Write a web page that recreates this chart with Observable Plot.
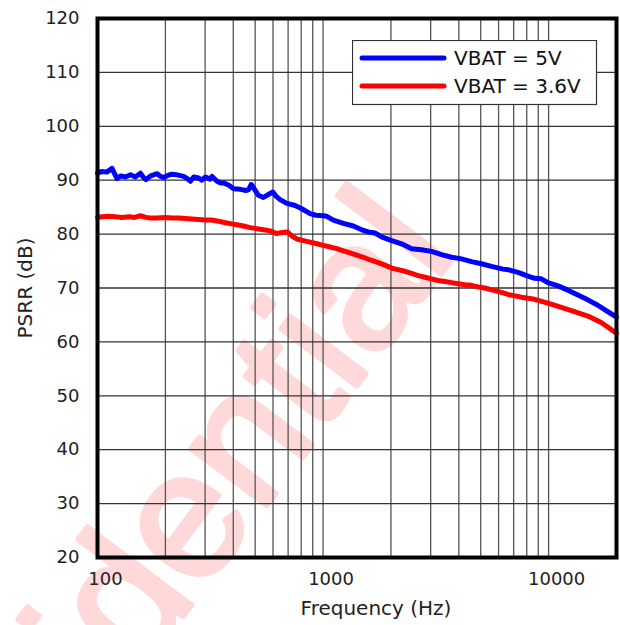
<!DOCTYPE html>
<html><head><meta charset="utf-8">
<script src="https://cdn.jsdelivr.net/npm/d3@7"></script>
<script src="https://cdn.jsdelivr.net/npm/@observablehq/plot@0.6"></script>
<style>
body{margin:0;background:#fff;}
#wrap{position:relative;width:620px;height:625px;overflow:hidden;}
#legend{position:absolute;left:352px;top:40px;}
</style></head><body><div id="wrap"></div>
<script>
const seriesNames = ["VBAT = 5V", "VBAT = 3.6V"];
const seriesColors = ["#0000ff", "#ff0000"];

const freq5 = [100,104,110,116,119,122,127,133,140,147,155,160,164,172,184,190,197,205,212,225,241,252,258,267,281,290,301,316,322,339,350,362,381,401,430,455,467,480,497,517,544,564,599,620,645,691,752,805,876,930,1000,1039,1111,1230,1362,1484,1587,1699,1818,2014,2230,2469,2734,3028,3353,3713,4111,4551,5038,5579,6279,6605,7313,8096,8672,9283,9929,10996,12173,13478,14925,16522,18295,20000];
const psrr5 = [91.3,91.6,91.5,92.2,91.2,90.3,90.8,90.6,91.0,90.6,91.3,90.5,90.1,90.8,91.2,90.7,90.5,90.9,91.1,91.0,90.7,90.2,89.8,90.6,90.4,90.0,90.6,90.2,90.7,89.8,89.5,89.5,89.1,88.4,88.3,88.1,88.2,89.2,88.3,87.2,86.8,87.2,87.8,87.0,86.4,85.7,85.3,84.7,83.8,83.5,83.4,83.3,82.6,82.0,81.5,80.8,80.4,80.2,79.5,78.8,78.2,77.3,77.1,76.8,76.2,75.7,75.4,74.9,74.5,74.0,73.5,73.4,72.9,72.2,71.8,71.7,71.0,70.4,69.6,68.7,67.8,66.8,65.6,64.6];

const freq36 = [100,105,112,120,128,138,146,155,164,172,183,200,215,229,245,262,280,300,320,344,368,394,420,444,475,509,545,583,620,660,695,730,765,820,876,940,1003,1075,1150,1230,1317,1410,1508,1620,1757,1890,2014,2150,2306,2470,2641,2830,3028,3230,3467,3710,3970,4250,4551,4870,5211,5660,6177,6605,7572,8672,9929,11380,13032,14925,17110,20000];
const psrr36 = [83.1,83.2,83.3,83.2,83.1,83.2,83.1,83.4,83.1,83.0,83.0,83.1,83.0,83.0,82.9,82.8,82.7,82.6,82.6,82.4,82.1,81.9,81.7,81.5,81.2,81.0,80.8,80.6,80.1,80.3,80.4,79.6,79.1,78.8,78.5,78.2,77.9,77.6,77.3,76.9,76.5,76.1,75.7,75.2,74.7,74.2,73.7,73.4,73.1,72.7,72.3,72.0,71.7,71.4,71.2,71.0,70.8,70.6,70.5,70.2,70.0,69.6,69.2,68.8,68.3,67.9,67.2,66.4,65.6,64.8,63.6,61.6];

const yTicks = [20,30,40,50,60,70,80,90,100,110,120];
const xTicks = [100,1000,10000];
const xGrid = [100,200,300,400,500,600,700,800,900,1000,2000,3000,4000,5000,6000,7000,8000,9000,10000,20000];
const xTitle = "Frequency (Hz)";
const yTitle = "PSRR (dB)";
const watermark = "Confidential";

const data = [
  ...freq5.map((f, i) => ({f, v: psrr5[i], s: seriesNames[0]})),
  ...freq36.map((f, i) => ({f, v: psrr36[i], s: seriesNames[1]}))
];

const FONT = "DejaVu Sans, sans-serif";
const plot = Plot.plot({
  width: 620, height: 625,
  marginLeft: 97, marginRight: 4, marginTop: 18, marginBottom: 68,
  x: {type: "log", domain: [100, 20000]},
  y: {domain: [20, 120]},
  color: {domain: seriesNames, range: seriesColors},
  style: {fontFamily: FONT, fontSize: "18px", color: "#222", background: "#fff", overflow: "hidden"},
  marks: [
    Plot.ruleX(xGrid, {stroke: "#555", strokeWidth: 1.3}),
    Plot.ruleY(yTicks, {stroke: "#333", strokeWidth: 1.3}),
    Plot.line(data, {x: "f", y: "v", z: "s", stroke: "s", strokeWidth: 5, strokeLinejoin: "round", strokeLinecap: "round"}),
    Plot.frame({stroke: "#000", strokeWidth: 4}),
    Plot.axisY(yTicks, {tickSize: 0, tickPadding: 18, label: null, fontSize: 18}),
    Plot.axisX(xTicks, {tickSize: 0, tickPadding: 15, label: null, dx: 8, fontSize: 18, tickFormat: d => String(d)}),
    Plot.text([xTitle], {text: d => d, frameAnchor: "bottom", textAnchor: "middle", lineAnchor: "middle", dy: 51, dx: 19, fontSize: 20}),
    Plot.text([yTitle], {text: d => d, frameAnchor: "left", textAnchor: "middle", lineAnchor: "middle", rotate: -90, dx: -72, fontSize: 20})
  ]
});

const NS = "http://www.w3.org/2000/svg";
// watermark behind everything
const wm = document.createElementNS(NS, "text");
wm.setAttribute("transform", "translate(458,252) rotate(-53)");
wm.setAttribute("text-anchor", "end");
wm.setAttribute("font-family", "Liberation Sans, Arial, sans-serif");
wm.setAttribute("font-size", "180");
wm.setAttribute("fill", "#ffd9d9");
wm.setAttribute("stroke", "#ffd9d9");
wm.setAttribute("stroke-width", "5");
wm.setAttribute("stroke-linejoin", "round");
wm.textContent = watermark;
const firstG = plot.querySelector("g");
plot.insertBefore(wm, firstG);

const wrap = document.getElementById("wrap");
wrap.appendChild(plot);

// legend
const lg = document.createElementNS(NS, "svg");
lg.setAttribute("id", "legend");
lg.setAttribute("width", 246);
lg.setAttribute("height", 66);
const rect = document.createElementNS(NS, "rect");
rect.setAttribute("x", 0.5); rect.setAttribute("y", 0.5);
rect.setAttribute("width", 244); rect.setAttribute("height", 64);
rect.setAttribute("fill", "#fff"); rect.setAttribute("stroke", "#333"); rect.setAttribute("stroke-width", 1.2);
lg.appendChild(rect);
seriesNames.forEach((name, i) => {
  const cy = 18 + i * 28;
  const ln = document.createElementNS(NS, "line");
  ln.setAttribute("x1", 10); ln.setAttribute("x2", 92);
  ln.setAttribute("y1", cy); ln.setAttribute("y2", cy);
  ln.setAttribute("stroke", seriesColors[i]); ln.setAttribute("stroke-width", 5);
  ln.setAttribute("stroke-linecap", "round");
  lg.appendChild(ln);
  const t = document.createElementNS(NS, "text");
  t.setAttribute("x", 102); t.setAttribute("y", cy);
  t.setAttribute("dominant-baseline", "central");
  t.setAttribute("font-family", FONT);
  t.setAttribute("font-size", 20);
  t.setAttribute("fill", "#111");
  t.textContent = name;
  lg.appendChild(t);
});
wrap.appendChild(lg);
</script>
</body></html>
